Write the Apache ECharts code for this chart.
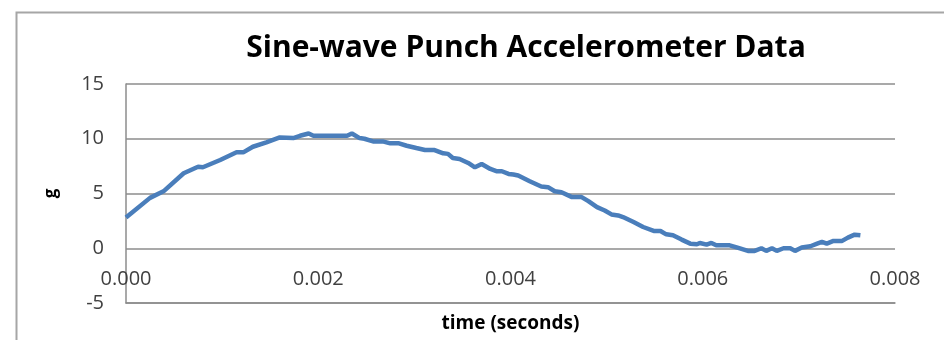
<!DOCTYPE html>
<html>
<head>
<meta charset="utf-8">
<script src="https://cdn.jsdelivr.net/npm/echarts@6/dist/echarts.min.js"></script>
<style>
  html, body { margin: 0; padding: 0; background: #fff; }
  #chart { width: 944px; height: 340px; }
</style>
</head>
<body>
<div id="chart"></div>
<script>
// time (s) and acceleration (g)
const times = [
  0.00000, 0.00025, 0.00039, 0.00060, 0.00075, 0.00080, 0.00098, 0.00115, 0.00122,
  0.00132, 0.00146, 0.00160, 0.00174, 0.00181, 0.00190, 0.00195, 0.00230, 0.00235,
  0.00243, 0.00248, 0.00257, 0.00267, 0.00275, 0.00284, 0.00292, 0.00302, 0.00311,
  0.00321, 0.00330, 0.00335, 0.00340, 0.00347, 0.00356, 0.00363, 0.00370, 0.00379,
  0.00386, 0.00391, 0.00398, 0.00403, 0.00408, 0.00420, 0.00432, 0.00439, 0.00446,
  0.00453, 0.00464, 0.00474, 0.00481, 0.00490, 0.00498, 0.00505, 0.00512, 0.00517,
  0.00528, 0.00538, 0.00549, 0.00556, 0.00562, 0.00569, 0.00578, 0.00587, 0.00594,
  0.00597, 0.00604, 0.00609, 0.00614, 0.00628, 0.00637, 0.00647, 0.00654, 0.00661,
  0.00666, 0.00672, 0.00677, 0.00684, 0.00691, 0.00696, 0.00703, 0.00712, 0.00719,
  0.00724, 0.00729, 0.00736, 0.00745, 0.00751, 0.00758, 0.00764
];
const accel = [
  2.8, 4.6, 5.2, 6.85, 7.45, 7.4, 8.06, 8.76, 8.76,
  9.27, 9.67, 10.12, 10.06, 10.27, 10.48, 10.27, 10.27, 10.48,
  10.06, 10.0, 9.76, 9.76, 9.58, 9.58, 9.36, 9.15, 8.97,
  8.97, 8.67, 8.62, 8.24, 8.15, 7.79, 7.39, 7.7, 7.24,
  7.03, 7.03, 6.79, 6.73, 6.64, 6.12, 5.64, 5.58, 5.21,
  5.12, 4.67, 4.67, 4.3, 3.76, 3.45, 3.09, 3.0, 2.85,
  2.39, 1.94, 1.58, 1.58, 1.27, 1.18, 0.79, 0.42, 0.36,
  0.48, 0.33, 0.48, 0.27, 0.27, 0.03, -0.24, -0.24, 0.0,
  -0.24, 0.0, -0.24, 0.0, 0.0, -0.24, 0.06, 0.18, 0.42,
  0.58, 0.42, 0.67, 0.67, 0.97, 1.24, 1.18
];
const xTicks = [0, 0.002, 0.004, 0.006, 0.008];
const yTicks = [-5, 0, 5, 10, 15];

const chart = echarts.init(document.getElementById('chart'));

const gridColor = '#8c8c8c';
const labelFont = "'Open Sans', 'Liberation Sans', sans-serif";

chart.setOption({
  animation: false,
  backgroundColor: '#fff',
  graphic: [{
    type: 'rect',
    left: 14,
    top: 10,
    shape: { width: 1000, height: 400 },
    style: { fill: 'none', stroke: '#a6a6a6', lineWidth: 2 },
    silent: true
  }],
  title: {
    text: 'Sine-wave Punch Accelerometer Data',
    left: 521,
    top: 28,
    textAlign: 'center',
    textStyle: {
      fontFamily: labelFont,
      fontSize: 30,
      fontWeight: 'bold',
      color: '#000'
    }
  },
  grid: { left: 126, right: 49, top: 84, bottom: 37, outerBoundsMode: 'none' },
  xAxis: {
    type: 'value',
    min: xTicks[0],
    max: xTicks[xTicks.length - 1],
    interval: 0.002,
    name: 'time (seconds)',
    nameLocation: 'middle',
    nameGap: 11,
    nameTextStyle: {
      fontFamily: labelFont,
      fontSize: 19,
      fontWeight: 'bold',
      color: '#000',
      verticalAlign: 'top'
    },
    axisLine: { onZero: false, lineStyle: { color: gridColor, width: 1.5 } },
    axisTick: { show: false },
    splitLine: { show: false },
    // labels sit between the 0 and -5 lines, as in the source
    axisLabel: {
      margin: -34,
      fontFamily: labelFont,
      fontSize: 20,
      color: '#404040',
      formatter: v => v.toFixed(3)
    }
  },
  yAxis: {
    type: 'value',
    min: yTicks[0],
    max: yTicks[yTicks.length - 1],
    interval: 5,
    name: 'g',
    nameLocation: 'middle',
    nameRotate: 90,
    nameGap: 66,
    nameTextStyle: {
      fontFamily: labelFont,
      fontSize: 17,
      fontWeight: 'bold',
      color: '#000'
    },
    axisLine: { show: true, onZero: false, lineStyle: { color: gridColor, width: 1.5 } },
    axisTick: { show: false },
    splitLine: { show: true, lineStyle: { color: gridColor, width: 1.5 } },
    axisLabel: {
      margin: 22,
      fontFamily: labelFont,
      fontSize: 20,
      color: '#404040'
    }
  },
  series: [{
    type: 'line',
    data: times.map((t, i) => [t, accel[i]]),
    showSymbol: false,
    smooth: false,
    lineStyle: { color: '#4a7ebb', width: 4.5 },
    z: 3
  }]
});
</script>
</body>
</html>
